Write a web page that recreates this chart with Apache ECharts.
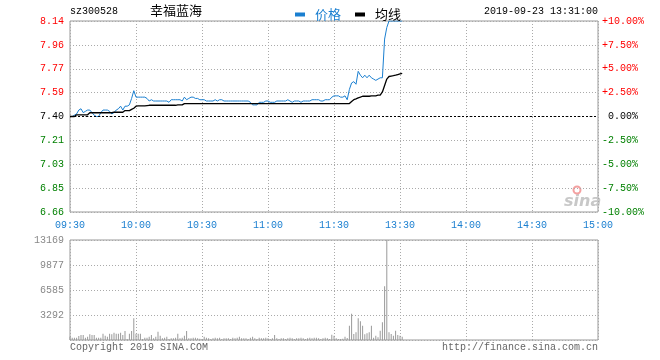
<!DOCTYPE html>
<html><head><meta charset="utf-8">
<script src="https://cdn.jsdelivr.net/npm/echarts@6/dist/echarts.min.js"></script>
<style>html,body{margin:0;padding:0;background:#fff}#c{width:660px;height:360px}</style>
</head><body><div id="c"></div>
<script>
// x ticks: minute index 0..240 (09:30-11:30 | 13:00-15:00), one tick each 30 min
const timeLabels = ['09:30','10:00','10:30','11:00','11:30','13:30','14:00','14:30','15:00'];
const priceLabels = ['6.66','6.85','7.03','7.21','7.40','7.59','7.77','7.96','8.14'];
const pctLabels = ['-10.00%','-7.50%','-5.00%','-2.50%',' 0.00%','+2.50%','+5.00%','+7.50%','+10.00%'];
const volLabels = ['','3292','6585','9877','13169'];

const price = [
7.40,7.40,7.41,7.42,7.45,7.46,7.43,7.44,7.45,7.45,
7.43,7.41,7.40,7.40,7.43,7.45,7.45,7.45,7.44,7.42,
7.43,7.45,7.46,7.48,7.45,7.48,7.48,7.49,7.54,7.60,
7.55,7.55,7.55,7.55,7.55,7.54,7.52,7.53,7.52,7.52,
7.52,7.52,7.52,7.52,7.52,7.51,7.53,7.53,7.53,7.53,
7.53,7.52,7.55,7.53,7.54,7.55,7.55,7.54,7.54,7.53,
7.53,7.53,7.52,7.52,7.52,7.52,7.53,7.52,7.53,7.53,
7.52,7.52,7.52,7.52,7.52,7.52,7.52,7.52,7.52,7.52,
7.52,7.52,7.51,7.49,7.49,7.49,7.51,7.51,7.51,7.52,
7.52,7.51,7.51,7.51,7.52,7.52,7.52,7.52,7.52,7.53,
7.52,7.51,7.52,7.52,7.52,7.51,7.52,7.52,7.52,7.52,
7.53,7.53,7.53,7.53,7.52,7.52,7.53,7.53,7.53,7.55,
7.56,7.56,7.56,7.55,7.55,7.56,7.53,7.61,7.66,7.67,
7.65,7.75,7.72,7.70,7.72,7.70,7.72,7.70,7.69,7.68,
7.69,7.70,7.70,8.00,8.09,8.14,8.14,8.14,8.14,8.14,
8.14,8.14
];
const avgPrice = [
7.400,7.400,7.400,7.413,7.413,7.413,7.413,7.413,7.413,7.429,
7.429,7.429,7.429,7.429,7.429,7.429,7.429,7.429,7.429,7.429,
7.433,7.433,7.433,7.433,7.433,7.446,7.446,7.446,7.455,7.464,
7.480,7.483,7.483,7.483,7.483,7.485,7.487,7.487,7.487,7.487,
7.487,7.487,7.487,7.487,7.487,7.487,7.487,7.487,7.487,7.490,
7.490,7.490,
7.500,7.500,7.500,7.500,7.500,7.500,7.500,7.500,7.500,7.500,
7.500,7.500,7.500,7.500,7.500,7.500,7.500,7.500,7.500,7.500,
7.500,7.500,7.500,7.500,7.500,7.500,7.500,7.500,7.500,7.500,
7.500,7.500,7.500,7.500,7.500,7.500,7.500,7.500,7.500,7.500,
7.500,7.500,7.500,7.500,7.500,7.500,7.500,7.500,7.500,7.500,
7.500,7.500,7.500,7.500,7.500,7.500,7.500,7.500,7.500,7.500,
7.500,7.500,7.500,7.500,7.500,7.500,7.500,7.500,7.500,7.500,
7.500,7.500,7.500,7.500,7.500,7.500,
7.516,7.530,7.537,7.545,7.550,7.557,7.557,7.557,7.557,7.560,7.560,7.560,
7.565,7.565,7.590,7.640,7.690,7.710,7.713,7.716,7.720,7.725,7.730,7.735
];
const volume = [
440,310,310,310,530,660,660,310,440,750,
660,660,310,310,310,830,570,440,830,750,
970,830,830,970,660,1190,130,830,1190,2850,
830,830,830,130,310,310,440,660,220,440,
1100,570,220,310,440,130,220,220,310,830,
220,310,570,1190,220,220,310,310,220,
180,130,440,310,220,130,220,310,220,310,
130,220,220,220,130,310,220,310,440,220,
220,220,130,310,440,220,130,310,220,220,
310,220,130,220,660,220,130,220,220,130,
220,310,220,130,220,220,310,220,130,220,
310,220,310,310,220,130,220,310,
220,130,700,570,220,130,130,180,440,260,
1890,3470,790,1010,2850,2460,1890,750,880,1010,
1890,310,570,350,1230,2330,7070,13169,1010,790,
570,1230,660,570,440
];

const MONO = 'Liberation Mono';
const RED = '#ff0000', GREEN = '#008000', BLUE = '#1a7fd0';
const grey = '#aaaaaa';
const dotted = {color: grey, type: [1, 2], width: 1};

const chart = echarts.init(document.getElementById('c'));
const colorByIndex = (v, i) => (i > 4 ? RED : (i < 4 ? GREEN : '#000'));
function idx(v, min, step) { return Math.round((v - min) / step); }

chart.setOption({
  animation: false,
  backgroundColor: '#fff',
  legend: {
    left: 290, top: 3, icon: 'rect', itemWidth: 10, itemHeight: 4, itemGap: 14,
    textStyle: {fontFamily: 'Noto Sans CJK SC', fontSize: 13, padding: [0, 0, 0, 5]},
    data: [
      {name: '价格', textStyle: {color: BLUE}},
      {name: '均线', textStyle: {color: '#000'}}
    ]
  },
  grid: [
    {left: 70, top: 21, width: 528, height: 191, show: true, borderColor: '#999', borderWidth: 1},
    {left: 70, top: 240, width: 528, height: 100, show: true, borderColor: '#999', borderWidth: 1}
  ],
  xAxis: [
    {type: 'value', gridIndex: 0, min: 0, max: 240, interval: 30,
      axisLine: {show: false}, axisTick: {show: false},
      axisLabel: {color: BLUE, fontFamily: MONO, fontSize: 10, margin: 8,
        formatter: v => timeLabels[idx(v, 0, 30)]},
      splitLine: {show: true, lineStyle: dotted}},
    {type: 'value', gridIndex: 1, min: 0, max: 240, interval: 30,
      axisLine: {show: false}, axisTick: {show: false}, axisLabel: {show: false},
      splitLine: {show: true, lineStyle: dotted}}
  ],
  yAxis: [
    {type: 'value', gridIndex: 0, min: 6.66, max: 8.14, interval: 0.185,
      axisLine: {show: false}, axisTick: {show: false},
      axisLabel: {fontFamily: MONO, fontSize: 10, margin: 6, color: colorByIndex,
        formatter: v => priceLabels[idx(v, 6.66, 0.185)]},
      splitLine: {show: true, lineStyle: dotted}},
    {type: 'value', gridIndex: 0, position: 'right', min: 6.66, max: 8.14, interval: 0.185,
      axisLine: {show: false}, axisTick: {show: false},
      axisLabel: {fontFamily: MONO, fontSize: 10, margin: 4, color: colorByIndex,
        formatter: v => pctLabels[idx(v, 6.66, 0.185)]},
      splitLine: {show: false}},
    {type: 'value', gridIndex: 1, min: 0, max: 13169, interval: 13169 / 4,
      axisLine: {show: false}, axisTick: {show: false},
      axisLabel: {fontFamily: MONO, fontSize: 10, margin: 6, color: '#888',
        formatter: v => volLabels[idx(v, 0, 13169 / 4)]},
      splitLine: {show: true, lineStyle: dotted}}
  ],
  series: [
    {name: '价格', type: 'line', xAxisIndex: 0, yAxisIndex: 0, showSymbol: false, symbol: 'none',
      lineStyle: {color: BLUE, width: 1}, itemStyle: {color: BLUE},
      data: price.map((v, i) => [i, v]),
      markLine: {silent: true, symbol: 'none', label: {show: false},
        lineStyle: {color: '#000', type: [2, 2], width: 1},
        data: [{yAxis: 7.40}]}},
    {name: '均线', type: 'line', xAxisIndex: 0, yAxisIndex: 0, showSymbol: false, symbol: 'none',
      lineStyle: {color: '#000', width: 1.3}, itemStyle: {color: '#000'},
      data: avgPrice.map((v, i) => [i, v])},
    {name: '成交量', type: 'bar', xAxisIndex: 1, yAxisIndex: 2, barWidth: 1,
      itemStyle: {color: '#999'},
      data: volume.map((v, i) => [i, v])}
  ],
  graphic: [
    {type: 'text', left: 70, top: 6, style: {text: 'sz300528', font: '10px "Liberation Mono"', fill: '#000'}},
    {type: 'text', left: 150, top: 4, style: {text: '幸福蓝海', font: '13px "Noto Sans CJK SC"', fill: '#000'}},
    {type: 'text', right: 62, top: 6, style: {text: '2019-09-23 13:31:00', font: '10px "Liberation Mono"', fill: '#000'}},
    {type: 'text', left: 70, top: 342, style: {text: 'Copyright 2019 SINA.COM', font: '10px "Liberation Mono"', fill: '#666'}},
    {type: 'text', right: 62, top: 342, style: {text: 'http://finance.sina.com.cn', font: '10px "Liberation Mono"', fill: '#666'}},
    {type: 'text', left: 564, top: 194, style: {text: 'sina', font: 'italic bold 16px "DejaVu Sans"', fill: '#c8c8c8'}},
    {type: 'circle', shape: {cx: 577, cy: 190, r: 3.5}, style: {fill: 'none', stroke: '#f4a0a0', lineWidth: 2}}
  ]
});
</script></body></html>
